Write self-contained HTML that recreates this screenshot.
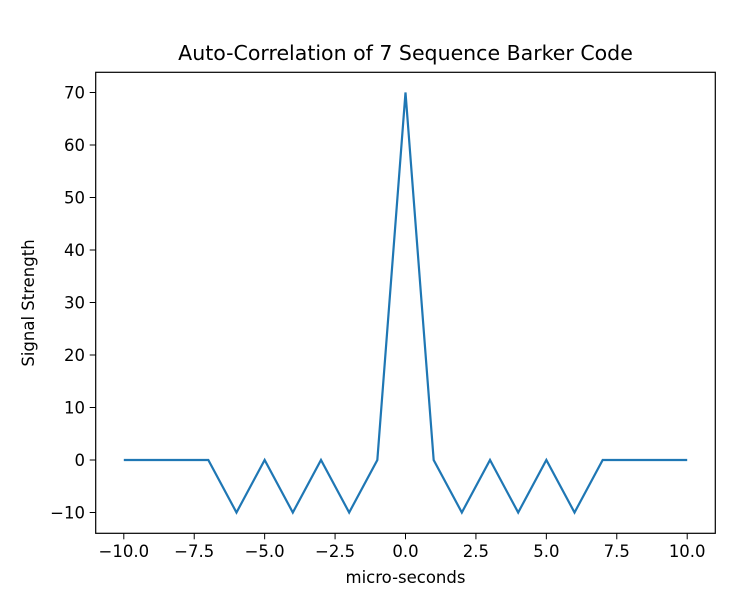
<!DOCTYPE html>
<html><head><meta charset="utf-8"><style>
body{margin:0;background:#fff;}
svg{display:block;font-family:"DejaVu Sans","Liberation Sans",sans-serif;}
</style></head><body>
<svg id="chart" width="747" height="599" viewBox="0 0 747 599">
<rect width="747" height="599" fill="#fff"/>
<text x="405.5" y="60" text-anchor="middle" font-size="20.5" fill="#000">Auto-Correlation of 7 Sequence Barker Code</text>
<g id="xticks"></g>
<g id="yticks"></g>
<path id="line" fill="none" stroke="#1f77b4" stroke-width="2.2" stroke-linejoin="miter"/>
<rect x="95.7" y="72.3" width="619.6" height="461" fill="none" stroke="#000" stroke-width="1.2"/>
<text x="405.5" y="583" text-anchor="middle" font-size="16.5">micro-seconds</text>
<text transform="translate(34,303) rotate(-90)" text-anchor="middle" font-size="16.5">Signal Strength</text>
</svg>
<script>
const xValues=[-10,-9,-8,-7,-6,-5,-4,-3,-2,-1,0,1,2,3,4,5,6,7,8,9,10];
const yValues=[0,0,0,0,-10,0,-10,0,-10,0,70,0,-10,0,-10,0,-10,0,0,0,0];
const xTicks=[-10,-7.5,-5,-2.5,0,2.5,5,7.5,10];
const xTickLabels=["−10.0","−7.5","−5.0","−2.5","0.0","2.5","5.0","7.5","10.0"];
const yTicks=[-10,0,10,20,30,40,50,60,70];
const yTickLabels=["−10","0","10","20","30","40","50","60","70"];
const sx=v=>405.5+v*28.17;
const sy=v=>460-v*5.25;
const NS="http://www.w3.org/2000/svg";
const xg=document.getElementById('xticks'),yg=document.getElementById('yticks');
xTicks.forEach((t,i)=>{
  const l=document.createElementNS(NS,'line');
  l.setAttribute('x1',sx(t));l.setAttribute('x2',sx(t));l.setAttribute('y1',533.3);l.setAttribute('y2',539.3);l.setAttribute('stroke','#000');
  
  
  xg.appendChild(l);
  const tx=document.createElementNS(NS,'text');
  tx.setAttribute('x',sx(t));tx.setAttribute('y',557);tx.setAttribute('text-anchor','middle');tx.setAttribute('font-size','16.5');
  tx.textContent=xTickLabels[i];
  
  
  xg.appendChild(tx);
});
yTicks.forEach((t,i)=>{
  const l=document.createElementNS(NS,'line');
  l.setAttribute('x1',89.7);l.setAttribute('x2',95.7);l.setAttribute('y1',sy(t));l.setAttribute('y2',sy(t));l.setAttribute('stroke','#000');
  
  
  yg.appendChild(l);
  const tx=document.createElementNS(NS,'text');
  tx.setAttribute('x',85);tx.setAttribute('y',sy(t)+6);tx.setAttribute('text-anchor','end');tx.setAttribute('font-size','16.5');
  tx.textContent=yTickLabels[i];
  
  
  yg.appendChild(tx);
});
document.getElementById('line').setAttribute('d',xValues.map((x,i)=>(i?'L':'M')+sx(x)+' '+sy(yValues[i])).join(' '));
</script>
</body></html>
